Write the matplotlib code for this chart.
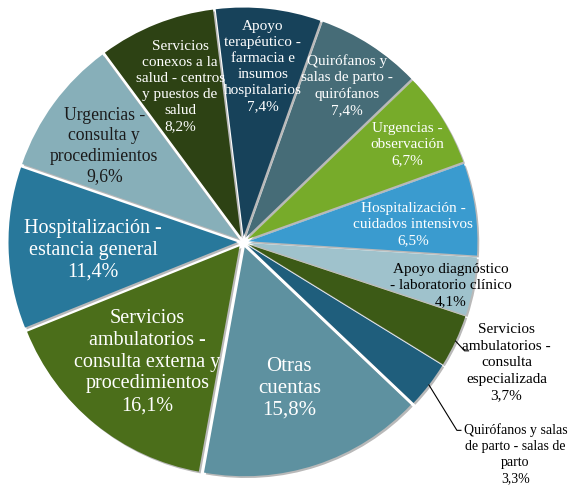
import numpy as np
import matplotlib
matplotlib.use("Agg")
from matplotlib import pyplot as plt

# data, clockwise from the top
categories = [
    "Apoyo\nterapéutico -\nfarmacia e\ninsumos\nhospitalarios",
    "Quirófanos y\nsalas de parto -\nquirófanos",
    "Urgencias -\nobservación",
    "Hospitalización -\ncuidados intensivos",
    "Apoyo diagnóstico\n- laboratorio clínico",
    "Servicios\nambulatorios -\nconsulta\nespecializada",
    "Quirófanos y salas\nde parto - salas de\nparto",
    "Otras\ncuentas",
    "Servicios\nambulatorios -\nconsulta externa y\nprocedimientos",
    "Hospitalización -\nestancia general",
    "Urgencias -\nconsulta y\nprocedimientos",
    "Servicios\nconexos a la\nsalud - centros\ny puestos de\nsalud",
]
shares = [7.4, 7.4, 6.7, 6.5, 4.1, 3.7, 3.3, 15.8, 16.1, 11.4, 9.6, 8.2]

colors = ["#17425a", "#466c77", "#77ab2a", "#3a9bcf", "#9fc2cc", "#3c5a16",
          "#1f5e7c", "#5e91a0", "#4b6e1a", "#28789b", "#87afb9", "#2d4214"]
text_colors = ["white", "white", "white", "white", "black", "black",
               "black", "white", "white", "white", "#1a1a1a", "white"]
font_sizes = [11, 11, 11, 11, 11, 11, 10, 15, 14.5, 14.5, 12.7, 11]
line_sp = [1.3, 1.3, 1.3, 1.3, 1.3, 1.35, 1.3, 1.2, 1.2, 1.2, 1.28, 1.3]
# label distance as a fraction of the radius, plus small nudges in pixels
label_r = [0.78, 0.82, 0.81, 0.75, 0.91, 1.26, 1.50, 0.65, 0.66, 0.65, 0.73, 0.73]
nudge_x = [0, 2, 7, 0, 3, 2, 0, 0, 0, -1, -4, -1]
nudge_y = [-2, -1, 0, -7, -4, 1, -3, -5, -3, -5, -3, 0]
outside = [5, 6]

plt.rcParams['font.family'] = ['Liberation Serif', 'DejaVu Serif']

fig = plt.figure(figsize=(5.69, 4.87), dpi=100)
ax = fig.add_axes([0, 0, 1, 1])

cx, cy, R = 243, 245, 229
gap = 0.024 * R  # pie explode is in data units
wedges, _ = ax.pie(shares, colors=colors, startangle=97, counterclock=False,
                   explode=[gap] * len(shares), radius=R, center=(cx, cy),
                   wedgeprops=dict(linewidth=0),
                   shadow={'ox': 1.3, 'oy': -1.3, 'facecolor': '#808080',
                           'edgecolor': 'none', 'alpha': 0.55})
ax.set_xlim(0, 569)
ax.set_ylim(0, 487)

for i, w in enumerate(wedges):
    mid = np.deg2rad((w.theta1 + w.theta2) / 2)
    r = label_r[i] * R
    tx = cx + r * np.cos(mid) + nudge_x[i]
    ty = cy + r * np.sin(mid) + nudge_y[i]
    txt = categories[i] + "\n" + f"{shares[i]:.1f}%".replace(".", ",")
    ax.text(tx, ty, txt, ha="center", va="center", color=text_colors[i],
            fontsize=font_sizes[i], linespacing=line_sp[i])
    if i in outside:
        ex = R + gap
        x0, y0 = cx + ex * np.cos(mid), cy + ex * np.sin(mid)
        # leader line: diagonal then short horizontal tick into the text
        if i == 5:
            x1, y1 = x0 + 9, ty + 12
        else:
            x1, y1 = x0 + 28, ty + 24
        ax.plot([x0, x1, x1 + 4], [y0, y1, y1], color="black", lw=0.8)

fig.savefig("out.png", dpi=100)
